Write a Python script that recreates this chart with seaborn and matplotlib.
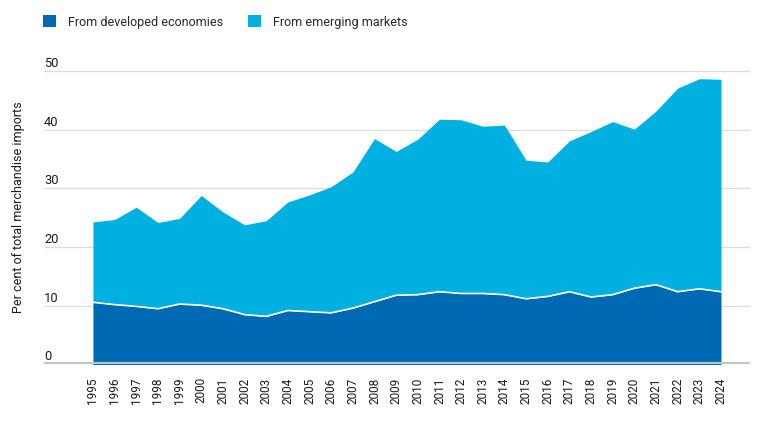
import matplotlib
matplotlib.use("Agg")
import matplotlib.pyplot as plt
import matplotlib.transforms as mtransforms
from matplotlib.patches import Patch
import numpy as np
import pandas as pd
import seaborn as sns

# Data (per cent of total merchandise imports)
years = list(range(1995, 2025))
developed = [10.6, 10.2, 9.9, 9.5, 10.3, 10.1, 9.5, 8.5, 8.2, 9.2,
             9.0, 8.8, 9.6, 10.7, 11.8, 11.9, 12.4, 12.1, 12.1, 11.9,
             11.2, 11.6, 12.4, 11.5, 11.9, 13.0, 13.6, 12.4, 12.9, 12.4]
emerging = [13.7, 14.5, 16.9, 14.7, 14.6, 18.7, 16.5, 15.3, 16.3, 18.5,
            19.9, 21.5, 23.2, 27.8, 24.5, 26.5, 29.4, 29.6, 28.5, 28.9,
            23.6, 22.9, 25.7, 28.2, 29.5, 27.1, 29.6, 34.7, 35.8, 36.2]
series_names = ["From developed economies", "From emerging markets"]
y_ticks = [0, 10, 20, 30, 40, 50]
y_label = "Per cent of total merchandise imports"

dark_blue = "#0069b4"
light_blue = "#00b0e0"

df = pd.DataFrame({"year": years, "developed": developed, "emerging": emerging})

sns.set_theme(style="white")
plt.rcParams["font.family"] = ["Roboto", "DejaVu Sans"]

fig = plt.figure(figsize=(7.64, 4.31), dpi=100)
ax = fig.add_axes([0.0576, 0.152, 0.9241, 0.708])

ax.stackplot(df["year"], df["developed"], df["emerging"],
             colors=[dark_blue, light_blue], linewidth=0, zorder=2)
# white boundary between the two areas
sns.lineplot(data=df, x="year", y="developed", color="white",
             linewidth=1.2, ax=ax, zorder=3)

ax.set_xlim(1992.74, 2025.34)
ax.set_ylim(0, 52)

# gridlines
ax.set_yticks(y_ticks)
for v in y_ticks[1:]:
    ax.axhline(v, color="#dcdcdc", linewidth=0.9, zorder=1)
ax.axhline(0, color="#bfc4ca", linewidth=3, zorder=4)

# y tick labels sit above the gridlines at the left edge
ax.set_yticklabels([])
trans = mtransforms.offset_copy(ax.get_yaxis_transform(), fig=fig, x=0, y=5, units="dots")
for v in y_ticks:
    ax.text(0, v, str(v), transform=trans, ha="left", va="baseline",
            fontsize=9.3, color="#1a1a1a")

ax.set_xticks(years)
ax.set_xticklabels([str(y) for y in years], rotation=90, fontsize=8.5, color="#1a1a1a")
ax.tick_params(axis="both", length=0)
ax.tick_params(axis="x", pad=8.5)

ax.set_xlabel("")
ax.set_ylabel(y_label, fontsize=9, color="#1a1a1a")
ax.yaxis.set_label_coords(-0.0276, 0.519)

for s in ax.spines.values():
    s.set_visible(False)

handles = [Patch(facecolor=dark_blue, edgecolor="none"),
           Patch(facecolor=light_blue, edgecolor="none")]
fig.legend(handles, series_names, loc="center left",
           bbox_to_anchor=(43.3 / 764, 1 - 22.8 / 431), ncol=2, frameon=False,
           fontsize=9, handlelength=1.0, handleheight=1.0, handletextpad=1.0,
           columnspacing=2.0, borderaxespad=0, borderpad=0)

fig.savefig("out.png", dpi=100)
